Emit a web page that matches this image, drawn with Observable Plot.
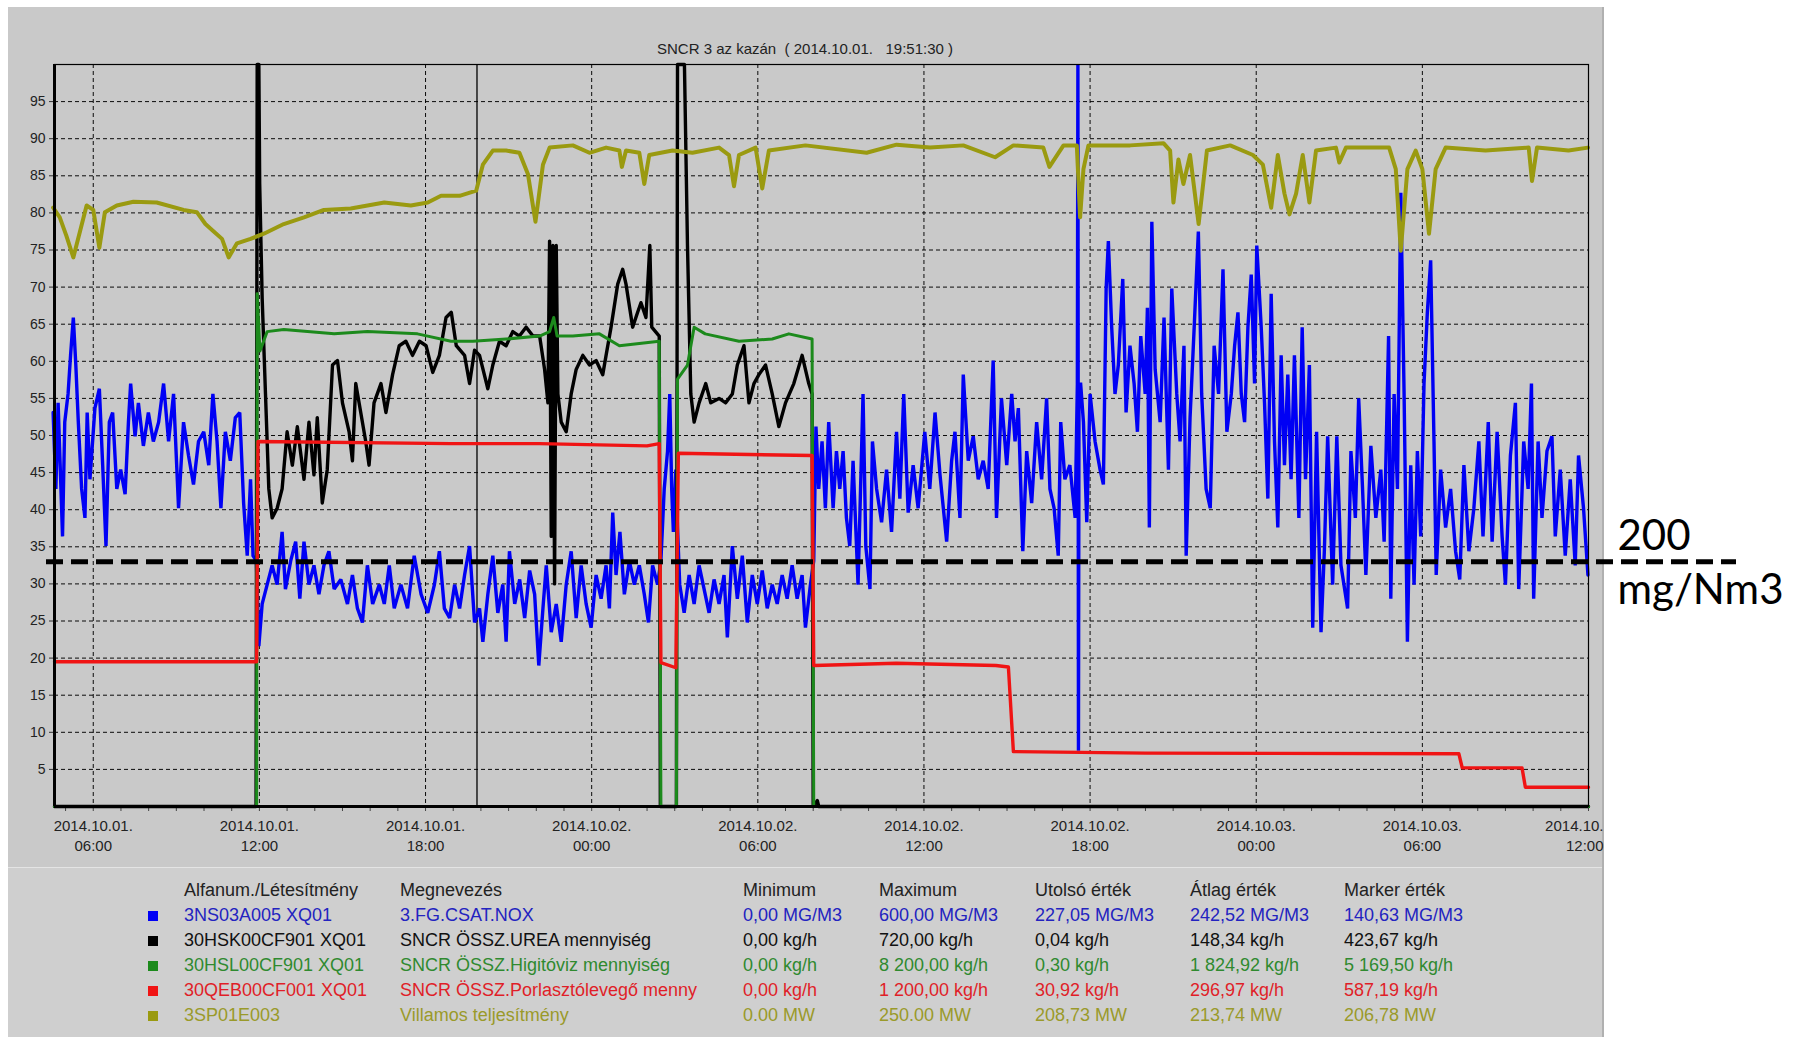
<!DOCTYPE html>
<html><head><meta charset="utf-8">
<script src="https://cdn.jsdelivr.net/npm/d3@7"></script>
<script src="https://cdn.jsdelivr.net/npm/@observablehq/plot@0.6"></script>
<style>
body{margin:0;background:#fff;width:1797px;height:1037px;overflow:hidden;position:relative;font-family:"Liberation Sans",Arial,sans-serif;}
#panel{position:absolute;left:8px;top:7px;width:1596px;height:1030px;background:#c9c9c9;box-shadow:inset -2px 0 0 #b0b0b0;}
#legendbg{position:absolute;left:8px;top:867px;width:1594px;height:170px;background:#cfcfcf;border-top:1px solid #e4e4e4;}
#title{position:absolute;top:40px;left:0;width:1610px;text-align:center;font-size:15px;white-space:pre;color:#222;}
#main{position:absolute;left:0;top:0;width:1604px;height:867px;overflow:hidden;}
#over{position:absolute;left:0;top:0;}
.leg{position:absolute;font-size:18px;white-space:pre;line-height:1;}
.sq{position:absolute;width:10px;height:10px;}
</style></head>
<body>
<div id="panel"></div>
<div id="legendbg"></div>
<div id="title"></div>
<div id="main"></div>
<div id="over"></div>
<div id="legend"></div>
<script>
// ---------- data (hours from 2014-10-01 00:00, value in % of range) ----------
const titleText = "SNCR 3 az kazán  ( 2014.10.01.   19:51:30 )";
const xStart = 4.6, xEnd = 60;
const markerHour = 19.858;
const threshold = 33;
const thresholdLabel = ["200", "mg/Nm3"];
const xTicks = [6, 12, 18, 24, 30, 36, 42, 48, 54, 60];
const xTickDates = ["2014.10.01.", "2014.10.01.", "2014.10.01.", "2014.10.02.", "2014.10.02.", "2014.10.02.", "2014.10.02.", "2014.10.03.", "2014.10.03.", "2014.10."];
const xTickTimes = ["06:00", "12:00", "18:00", "00:00", "06:00", "12:00", "18:00", "00:00", "06:00", "12:00"];
const yTicks = [5,10,15,20,25,30,35,40,45,50,55,60,65,70,75,80,85,90,95];
const hourTicks = [5,6,7,8,9,10,11,12,13,14,15,16,17,18,19,20,21,22,23,24,25,26,27,28,29,30,31,32,33,34,35,36,37,38,39,40,41,42,43,44,45,46,47,48,49,50,51,52,53,54,55,56,57,58,59,60];

const nox = [[4.55,53.1],[4.65,42.8],[4.73,54.4],[4.89,36.4],[4.97,51.8],[5.09,55.6],[5.18,60.8],[5.28,65.9],[5.37,59.5],[5.46,51.8],[5.58,42.8],[5.70,38.9],[5.78,53.1],[5.88,44.1],[6.06,53.7],[6.22,56.3],[6.34,46.0],[6.46,35.1],[6.58,51.8],[6.70,53.1],[6.85,42.8],[6.99,45.4],[7.15,42.1],[7.27,51.8],[7.35,57.0],[7.51,49.9],[7.63,54.4],[7.81,48.6],[7.99,53.1],[8.17,49.2],[8.36,51.8],[8.54,57.0],[8.72,49.2],[8.90,55.6],[9.08,40.2],[9.26,51.8],[9.44,47.3],[9.62,43.4],[9.80,49.2],[9.99,50.5],[10.17,46.0],[10.32,55.6],[10.47,49.2],[10.61,40.2],[10.77,50.5],[10.95,46.6],[11.13,52.4],[11.29,53.1],[11.43,40.9],[11.56,33.8],[11.68,44.1],[11.77,33.8],[11.89,33.1],[11.98,21.6],[12.10,27.3],[12.28,29.9],[12.46,32.5],[12.64,29.9],[12.82,37.0],[12.94,29.3],[13.13,33.1],[13.31,35.7],[13.46,28.0],[13.61,35.7],[13.79,29.9],[13.97,32.5],[14.15,28.6],[14.33,32.5],[14.51,34.4],[14.70,29.3],[14.94,30.6],[15.18,27.3],[15.36,31.2],[15.54,26.7],[15.72,24.8],[15.90,32.5],[16.09,27.3],[16.33,29.9],[16.51,27.3],[16.69,32.5],[16.87,26.7],[17.11,29.9],[17.35,26.7],[17.59,33.8],[17.84,28.6],[18.08,26.1],[18.32,29.9],[18.50,34.4],[18.68,26.7],
[18.87,25.4],[19.05,29.9],[19.23,26.7],[19.41,31.2],[19.59,35.1],[19.77,24.8],[19.95,26.7],[20.07,22.2],[20.25,28.6],[20.43,33.8],[20.61,26.1],[20.79,29.9],[20.91,22.2],[21.03,34.4],[21.22,27.3],[21.40,30.6],[21.58,25.4],[21.76,31.8],[21.94,28.6],[22.09,19.0],[22.24,26.7],[22.36,32.5],[22.54,23.5],[22.72,27.3],[22.90,22.2],[23.08,29.9],[23.26,34.4],[23.44,25.4],[23.62,32.5],[23.80,27.3],[23.98,24.1],[24.16,31.2],[24.34,28.0],[24.52,32.5],[24.64,26.7],[24.76,39.6],[24.88,31.2],[25.02,37.0],[25.18,28.6],[25.36,33.1],[25.54,29.9],[25.72,32.5],[25.90,28.6],[26.05,24.8],[26.20,32.5],[26.38,29.9],[26.50,33.1],[26.62,42.8],[26.74,47.9],[26.82,55.6],[26.89,42.8],[26.95,37.0],[27.04,45.4],[27.10,37.6],[27.18,29.9],[27.34,26.1],[27.52,31.2],[27.70,27.3],[27.88,32.5],[28.06,29.3],[28.24,26.1],[28.42,30.6],[28.60,27.3],[28.78,31.2],[28.90,22.8],[29.08,35.1],[29.26,28.0],[29.44,33.8],[29.62,24.8],[29.80,31.2],[29.98,27.3],[30.16,31.8],[30.34,26.7],[30.52,29.9],[30.70,27.3],[30.88,31.2],[31.06,28.0],[31.24,32.5],[31.42,28.0],[31.60,31.2],[31.72,24.1],[31.90,29.9],[32.02,33.1],[32.10,51.2],[32.20,42.8],[32.32,49.2],[32.44,40.2],[32.56,51.8],
[32.72,40.2],[32.84,47.9],[32.96,42.8],[33.08,47.9],[33.20,38.9],[33.32,35.1],[33.44,46.6],[33.62,29.9],[33.80,55.6],[33.90,35.1],[34.05,29.3],[34.14,49.2],[34.29,42.8],[34.47,38.3],[34.65,45.4],[34.83,37.0],[35.01,50.5],[35.13,41.5],[35.27,55.6],[35.43,39.6],[35.61,46.0],[35.79,40.2],[36.03,50.5],[36.21,42.8],[36.40,53.1],[36.58,44.7],[36.82,35.7],[37.00,46.6],[37.12,50.5],[37.30,38.9],[37.42,58.2],[37.60,46.6],[37.78,49.9],[37.96,44.1],[38.14,46.6],[38.32,42.8],[38.50,60.1],[38.62,38.9],[38.80,55.0],[38.99,46.0],[39.17,55.6],[39.29,49.2],[39.41,53.7],[39.57,34.4],[39.71,47.9],[39.89,40.9],[40.07,51.8],[40.25,44.1],[40.43,55.0],[40.55,42.8],[40.70,40.2],[40.85,33.8],[40.94,51.8],[41.09,44.1],[41.27,46.0],[41.46,38.9],[41.54,56.9],[41.56,100],[41.58,7.5],[41.60,56.9],[41.66,56.9],[41.76,51.8],[41.88,38.3],[42.00,55.6],[42.18,49.2],[42.36,45.4],[42.48,43.4],[42.58,69.8],[42.66,76.2],[42.78,64.6],[42.90,55.6],[43.02,59.5],[43.18,71.1],[43.30,53.1],[43.44,62.1],[43.59,57.0],[43.71,50.5],[43.83,63.4],[43.99,55.6],[44.07,67.2],[44.14,37.6],[44.23,78.8],[44.35,58.9],[44.53,51.8],[44.67,65.9],[44.83,45.4],[44.95,69.8],[45.13,55.6],[45.25,49.2],[45.39,62.1],[45.47,33.8],[45.61,52.4],[45.76,64.6],[45.91,77.5],[46.03,55.6],[46.19,42.8],[46.34,40.2],[46.48,62.1],[46.64,55.6],
[46.80,72.4],[46.94,50.5],[47.10,55.6],[47.22,62.1],[47.34,66.6],[47.46,55.6],[47.58,51.8],[47.70,64.6],[47.82,71.7],[47.94,57.0],[48.02,75.6],[48.18,64.6],[48.30,54.4],[48.42,41.5],[48.54,69.1],[48.66,49.2],[48.78,37.6],[48.90,60.8],[49.02,46.0],[49.14,58.2],[49.26,44.1],[49.38,60.8],[49.54,38.9],[49.66,64.6],[49.78,44.1],[49.92,59.5],[50.04,24.1],[50.18,50.5],[50.34,23.5],[50.46,34.4],[50.58,49.9],[50.76,29.9],[50.91,49.9],[51.06,32.5],[51.30,26.7],[51.42,47.9],[51.58,38.9],[51.70,55.0],[51.84,42.8],[51.96,31.2],[52.14,48.6],[52.32,38.9],[52.50,45.4],[52.62,35.7],[52.78,63.4],[52.86,28.0],[52.98,55.6],[53.10,42.8],[53.22,82.7],[53.34,55.6],[53.46,22.2],[53.58,46.0],[53.70,29.9],[53.82,47.9],[53.94,36.4],[54.06,57.0],[54.18,66.6],[54.30,73.6],[54.42,49.2],[54.50,31.2],[54.66,45.4],[54.84,37.6],[55.02,42.8],[55.20,34.4],[55.35,30.6],[55.50,46.0],[55.68,34.4],[55.86,40.2],[56.04,49.2],[56.19,36.4],[56.38,51.8],[56.52,35.7],[56.70,50.5],[56.88,36.4],[57.00,29.9],[57.18,47.3],[57.36,54.4],[57.48,29.3],[57.66,49.2],[57.82,42.8],[57.94,57.0],[58.02,28.0],[58.18,49.2],[58.32,38.9],[58.50,47.9],[58.68,49.9],[58.80,36.4],[58.98,45.4],[59.16,33.8],[59.34,44.1],[59.52,32.5],[59.64,47.3],[59.82,40.2],[59.98,31.2]];

const urea = [[4.6,0],[11.88,0],[11.92,100],[11.98,100],[12.01,84],[12.10,68.5],[12.22,55.6],[12.34,42.8],[12.46,38.9],[12.64,40.2],[12.82,42.8],[13.0,50.5],[13.19,46.0],[13.37,51.2],[13.61,44.1],[13.79,51.8],[13.97,44.7],[14.09,52.4],[14.27,40.9],[14.45,45.4],[14.64,59.5],[14.82,60.1],[15.0,54.4],[15.24,50.5],[15.36,46.6],[15.48,57.0],[15.66,53.1],[15.84,49.2],[15.96,46.0],[16.14,54.4],[16.39,57.0],[16.57,53.1],[16.81,58.2],[17.05,62.1],[17.29,62.7],[17.53,60.8],[17.78,62.7],[18.02,62.1],[18.26,58.5],[18.50,60.8],[18.74,65.9],[18.93,66.6],[19.11,62.1],[19.41,60.8],[19.59,57.0],[19.77,61.5],[19.95,60.8],[20.25,56.3],[20.43,59.5],[20.67,62.7],[20.91,62.1],[21.15,64.0],[21.39,63.4],[21.63,64.6],[21.88,63.4],[22.12,63.4],[22.30,58.9],[22.42,54.4],[22.48,76.2],[22.54,36.4],[22.60,75.6],[22.66,30.0],[22.72,75.6],[22.78,55.6],[22.90,51.8],[23.08,50.5],[23.26,55.6],[23.44,58.9],[23.68,60.8],[23.92,59.5],[24.16,60.1],[24.40,58.2],[24.52,60.8],[24.70,64.6],[24.94,70.4],[25.12,72.4],[25.24,70.4],[25.48,64.6],[25.66,66.6],[25.78,67.9],[25.96,65.9],[26.10,75.6],[26.17,64.6],[26.44,63.4],[26.48,0],[27.06,0],[27.10,100],[27.35,100],[27.46,75.6],[27.58,55.6],[27.70,51.8],[27.88,54.4],[28.12,57.0],[28.30,54.4],[28.60,55.0],[28.84,54.4],[29.08,55.6],[29.26,59.5],[29.50,62.1],[29.68,54.4],[29.86,57.0],[30.04,58.2],[30.28,59.5],[30.52,55.6],[30.76,51.2],[31.00,54.4],[31.30,57.0],[31.60,60.8],[31.84,57.0],[31.96,55.6],[32.0,0],[32.15,0.8],[32.2,0],[60,0]];

const water = [[4.6,0],[11.9,0],[11.92,69.1],[12.02,61.4],[12.28,64.0],[12.88,64.3],[14.70,63.7],[15.90,64.0],[17.71,63.7],[18.92,62.7],[19.71,62.7],[20.91,63.0],[22.12,63.4],[22.48,64.0],[22.63,65.9],[22.75,63.4],[23.32,63.4],[24.28,63.7],[25.0,62.1],[25.72,62.4],[26.44,62.7],[26.5,0],[27.06,0],[27.10,57.6],[27.46,59.5],[27.70,64.6],[28.1,63.7],[29.32,62.7],[30.52,63.0],[31.12,63.7],[31.96,63.0],[32.02,0],[60,0]];

const air = [[4.6,19.5],[11.9,19.5],[11.95,49.2],[18.9,48.9],[22.1,48.9],[26.0,48.6],[26.44,48.9],[26.5,19.4],[27.04,18.7],[27.13,47.6],[31.96,47.3],[32.02,19.0],[35.0,19.3],[38.6,19.0],[39.05,18.8],[39.23,7.4],[44.0,7.2],[55.32,7.1],[55.44,5.2],[57.6,5.2],[57.72,2.6],[60,2.6]];

const power = [[4.55,80.7],[4.79,79.4],[5.03,76.9],[5.28,74.0],[5.52,77.5],[5.76,81.0],[6.0,80.4],[6.22,75.3],[6.42,80.1],[6.85,81.0],[7.45,81.5],[8.29,81.4],[9.26,80.4],[9.74,80.1],[10.05,78.5],[10.35,77.5],[10.65,76.5],[10.89,74.0],[11.19,75.9],[11.68,76.5],[12.16,77.2],[12.88,78.5],[13.61,79.4],[14.33,80.4],[15.30,80.6],[16.51,81.4],[17.47,81.0],[18.08,81.4],[18.56,82.3],[19.23,82.3],[19.83,83.0],[20.07,86.5],[20.43,88.4],[20.91,88.4],[21.39,88.1],[21.70,85.2],[21.97,78.8],[22.24,86.5],[22.48,88.8],[23.32,89.1],[23.92,88.1],[24.52,88.8],[25.00,88.4],[25.09,86.2],[25.24,88.4],[25.72,88.1],[25.90,83.9],[26.08,87.8],[26.92,88.4],[27.64,88.1],[28.60,88.8],[28.96,87.8],[29.14,83.6],[29.32,87.8],[29.92,88.8],[30.16,83.3],[30.40,88.4],[31.72,89.1],[33.93,88.1],[35.01,89.2],[36.22,88.8],[37.42,89.1],[38.57,87.5],[39.23,89.1],[40.31,88.8],[40.53,86.2],[41.04,89.1],[41.52,89.1],[41.64,79.4],[41.76,85.9],[41.94,89.1],[43.45,89.1],[44.65,89.4],[44.89,88.4],[45.01,81.4],[45.19,87.2],[45.37,83.9],[45.61,87.8],[45.92,78.5],[46.22,88.4],[47.06,89.1],[47.88,87.8],[48.24,86.5],[48.54,80.7],[48.78,87.8],[49.02,82.6],[49.20,79.8],[49.44,82.6],[49.68,87.8],[49.92,81.4],[50.16,88.4],[50.88,88.8],[51.00,86.8],[51.24,88.8],[52.80,88.8],[53.04,85.9],[53.22,74.9],[53.46,85.9],[53.76,88.4],[54.0,85.9],[54.24,77.2],[54.48,85.9],[54.84,88.8],[56.28,88.4],[57.84,88.8],[57.96,84.3],[58.14,88.8],[59.28,88.4],[59.98,88.8]];

// legend table
const legendHeaders = ["Alfanum./Létesítmény", "Megnevezés", "Minimum", "Maximum", "Utolsó érték", "Átlag érték", "Marker érték"];
const legendIds = ["3NS03A005 XQ01", "30HSK00CF901 XQ01", "30HSL00CF901 XQ01", "30QEB00CF001 XQ01", "3SP01E003"];
const legendNames = ["3.FG.CSAT.NOX", "SNCR ÖSSZ.UREA mennyiség", "SNCR ÖSSZ.Higitóviz mennyiség", "SNCR ÖSSZ.Porlasztólevegő menny", "Villamos teljesítmény"];
const legendMin = ["0,00 MG/M3", "0,00 kg/h", "0,00 kg/h", "0,00 kg/h", "0.00 MW"];
const legendMax = ["600,00 MG/M3", "720,00 kg/h", "8 200,00 kg/h", "1 200,00 kg/h", "250.00 MW"];
const legendLast = ["227,05 MG/M3", "0,04 kg/h", "0,30 kg/h", "30,92 kg/h", "208,73 MW"];
const legendAvg = ["242,52 MG/M3", "148,34 kg/h", "1 824,92 kg/h", "296,97 kg/h", "213,74 MW"];
const legendMarker = ["140,63 MG/M3", "423,67 kg/h", "5 169,50 kg/h", "587,19 kg/h", "206,78 MW"];

// ---------- styles ----------
const lineColors = ["#0000f5", "#000000", "#1c8a1c", "#f01414", "#9a9a10"];
const textColors = ["#2323c0", "#111111", "#2f8a2f", "#e01e28", "#9a9a2a"];

document.getElementById("title").textContent = titleText;

const lastTick = xTicks[xTicks.length - 1];
const tickLabel = new Map(xTicks.map((t, i) => [t, xTickDates[i] + "\n" + xTickTimes[i]]));
const X = d => d[0], Y = d => d[1];
const FONT = "Liberation Sans, Arial, sans-serif";

const main = Plot.plot({
  width: 1604, height: 867,
  marginLeft: 54, marginRight: 16, marginTop: 64, marginBottom: 61,
  style: {background: "transparent", fontFamily: FONT, overflow: "hidden"},
  x: {domain: [xStart, xEnd]},
  y: {domain: [0, 100]},
  marks: [
    Plot.gridY(yTicks, {stroke: "#000", strokeOpacity: 0.95, strokeDasharray: "4,3"}),
    Plot.gridX(xTicks, {stroke: "#000", strokeOpacity: 0.95, strokeDasharray: "4,3"}),
    Plot.axisY(yTicks, {tickSize: 5, tickPadding: 4, fontSize: 14, fill: "#222", stroke: "#333"}),
    Plot.axisX(hourTicks, {tickSize: 5, text: null, stroke: "#444"}),
    Plot.axisX(xTicks.slice(0, -1), {tickSize: 0, tickPadding: 11, fontSize: 15, lineHeight: 1.3, fill: "#222", tickFormat: d => tickLabel.get(d)}),
    Plot.text([tickLabel.get(lastTick)], {x: () => lastTick, frameAnchor: "bottom", lineAnchor: "top", dy: 11, dx: 15, textAnchor: "end", fontSize: 15, lineHeight: 1.3, fill: "#222"}),
    Plot.ruleX([markerHour], {stroke: "#000", strokeWidth: 1.3}),
    Plot.line(nox, {x: X, y: Y, stroke: lineColors[0], strokeWidth: 3.4, strokeLinejoin: "miter", strokeMiterlimit: 2}),
    Plot.line(urea, {x: X, y: Y, stroke: lineColors[1], strokeWidth: 3.4}),
    Plot.line(water, {x: X, y: Y, stroke: lineColors[2], strokeWidth: 3}),
    Plot.line(air, {x: X, y: Y, stroke: lineColors[3], strokeWidth: 3.4}),
    Plot.line(power, {x: X, y: Y, stroke: lineColors[4], strokeWidth: 4}),
    Plot.frame({stroke: "#000", strokeWidth: 1.2}),
    Plot.ruleY([0], {stroke: "#000", strokeWidth: 3}),
    Plot.ruleX([xStart], {stroke: "#000", strokeWidth: 3})
  ]
});
document.getElementById("main").appendChild(main);

const over = Plot.plot({
  width: 1797, height: 867,
  marginLeft: 54, marginRight: 209, marginTop: 64, marginBottom: 61,
  style: {background: "transparent", overflow: "visible"},
  x: {domain: [xStart, xEnd], axis: null},
  y: {domain: [0, 100], axis: null},
  marks: [
    Plot.ruleY([threshold], {stroke: "#000", strokeWidth: 5, strokeDasharray: "17,8", insetLeft: -8, insetRight: -148}),
    Plot.text([thresholdLabel[0]], {x: () => xEnd, y: () => threshold, dx: 29, dy: -25, textAnchor: "start", fontSize: 42, fontFamily: "Lato, Carlito, sans-serif", fill: "#000"}),
    Plot.text([thresholdLabel[1]], {x: () => xEnd, y: () => threshold, dx: 29, dy: 29, textAnchor: "start", fontSize: 42, fontFamily: "Lato, Carlito, sans-serif", fill: "#000"})
  ]
});
document.getElementById("over").appendChild(over);

// legend table (HTML)
const colX = [184, 400, 743, 879, 1035, 1190, 1344];
const rowY = [890, 915, 940, 965, 990, 1015];
const leg = document.getElementById("legend");
function cell(text, x, y, color) {
  const d = document.createElement("div");
  d.className = "leg";
  d.textContent = text;
  d.style.left = x + "px";
  d.style.top = (y - 9) + "px";
  d.style.color = color;
  leg.appendChild(d);
}
legendHeaders.forEach((h, j) => cell(h, colX[j], rowY[0], "#222"));
const cols = [legendIds, legendNames, legendMin, legendMax, legendLast, legendAvg, legendMarker];
for (let i = 0; i < 5; i++) {
  const sq = document.createElement("div");
  sq.className = "sq";
  sq.style.left = "148px";
  sq.style.top = (rowY[i + 1] - 4) + "px";
  sq.style.background = lineColors[i];
  leg.appendChild(sq);
  cols.forEach((c, j) => cell(c[i], colX[j], rowY[i + 1], textColors[i]));
}
</script>
</body></html>
